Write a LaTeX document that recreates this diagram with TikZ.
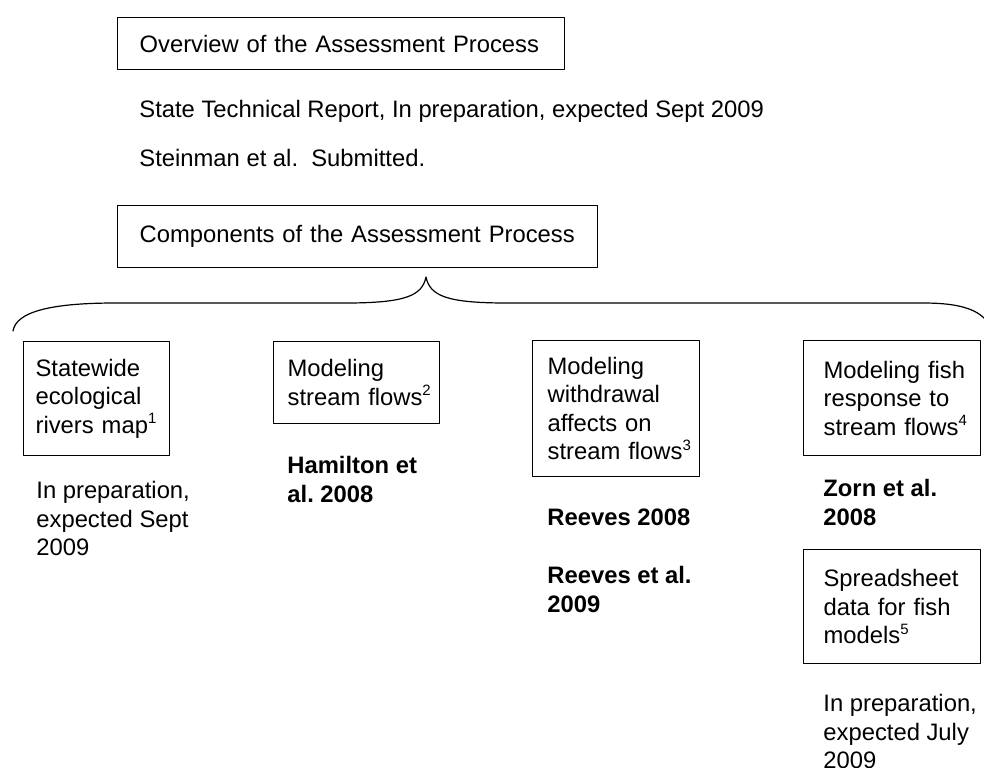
\documentclass[tikz,border=0pt]{standalone}
\usepackage{fontspec}
\setmainfont{Liberation Sans}
\newcommand{\txtsize}{\fontsize{11.9}{14.25}\selectfont}
\newcommand{\fnmark}[1]{\raisebox{0.75ex}{\fontsize{7.5}{8}\selectfont #1}}
\hyphenpenalty=10000
\exhyphenpenalty=10000
\frenchspacing

\begin{document}
\begin{tikzpicture}[line cap=round,line join=round,x=0.5pt,y=-0.5pt,
    font=\txtsize,
    box/.style={draw,line width=0.6pt,anchor=north west,align=left,inner ysep=0pt},
    note/.style={anchor=north west,align=left,inner sep=0pt},
    cite/.style={note,font=\txtsize\bfseries}]
  \useasboundingbox (0,0) rectangle (984,767);
  % assessment overview
  \draw (117,17) node[box,inner xsep=11pt,text width=201.5pt,minimum height=26pt] (overview) {Overview~of~the~Assessment~Process};
  \draw (139,111) node[anchor=west,inner sep=0pt] (report) {State Technical Report, In preparation, expected Sept 2009};
  \draw (139,158) node[anchor=west,inner sep=0pt] (steinman) {Steinman et al.\ \ Submitted.};
  \draw (117,205) node[box,inner xsep=11pt,text width=218pt,minimum height=31pt] (components) {Components~of~the~Assessment~Process};
  % brace over the components
  \draw[line width=0.6pt] (13,331) .. controls (16,312) and (50,303) .. (115,303) -- (345,303)
    .. controls (405,303) and (422,296) .. (426,277) .. controls (430,296) and (447,303) .. (507,303)
    -- (923,303) .. controls (962,303) and (984,310) .. (992,330);
  % the components
  \draw (23,341) node[box,inner xsep=6pt,text width=61pt,minimum height=57pt] (rivers) {Statewide\\ecological\\rivers~map\fnmark{1}};
  \draw (273,341) node[box,inner xsep=7pt,text width=69pt,minimum height=41pt] (flows) {Modeling\\stream~flows\fnmark{2}};
  \draw (532,340) node[box,inner xsep=7.5pt,text width=68.5pt,minimum height=68pt] (withdrawal) {Modeling\\withdrawal\\affects~on\\stream~flows\fnmark{3}};
  \draw (803,340) node[box,inner xsep=10pt,text width=68.5pt,minimum height=57.5pt] (fish) {Modeling~fish\\response~to\\stream~flows\fnmark{4}};
  \draw (803,549) node[box,inner xsep=10pt,text width=68.5pt,minimum height=57pt] (sheet) {Spreadsheet\\data~for~fish\\models\fnmark{5}};
  % publications
  \draw (36,481) node[note] (riverspub) {In preparation,\\expected Sept\\2009};
  \draw (287,456) node[cite] (hamilton) {Hamilton et\\al. 2008};
  \draw (547,508) node[cite] (reeves) {Reeves 2008};
  \draw (547,566) node[cite] (reevesal) {Reeves et al.\\2009};
  \draw (823,479) node[cite] (zorn) {Zorn et al.\\2008};
  \draw (823,694) node[note] (sheetpub) {In preparation,\\expected July\\2009};
\end{tikzpicture}
\end{document}
